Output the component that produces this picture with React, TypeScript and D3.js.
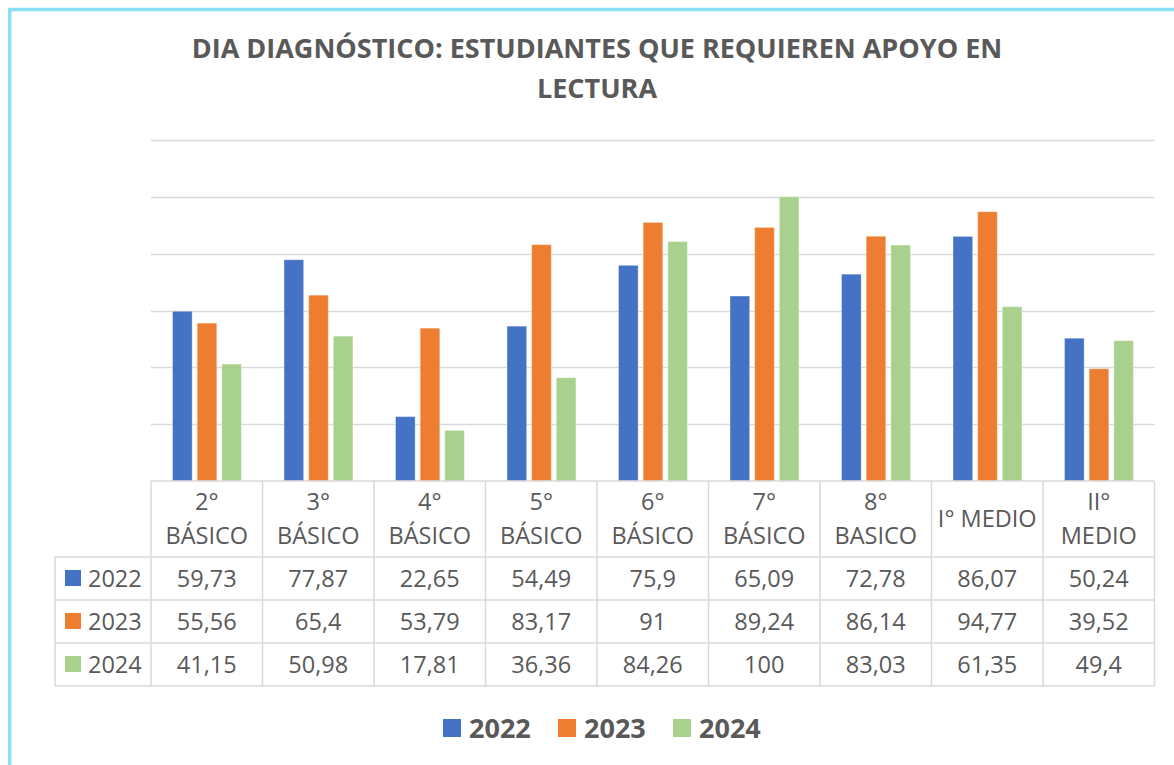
import React from "react";
import * as d3 from "d3";

const categories = [
  "2°\nBÁSICO",
  "3°\nBÁSICO",
  "4°\nBÁSICO",
  "5°\nBÁSICO",
  "6°\nBÁSICO",
  "7°\nBÁSICO",
  "8°\nBASICO",
  "I° MEDIO",
  "II°\nMEDIO",
];
const seriesNames = ["2022", "2023", "2024"];
const values2022 = [59.73, 77.87, 22.65, 54.49, 75.9, 65.09, 72.78, 86.07, 50.24];
const values2023 = [55.56, 65.4, 53.79, 83.17, 91, 89.24, 86.14, 94.77, 39.52];
const values2024 = [41.15, 50.98, 17.81, 36.36, 84.26, 100, 83.03, 61.35, 49.4];
const yTicks = [0, 20, 40, 60, 80, 100, 120];
const colors = ["#4472C4", "#ED7D31", "#A9D18E"];

const titleLines = ["DIA DIAGNÓSTICO: ESTUDIANTES QUE REQUIEREN APOYO EN", "LECTURA"];

const W = 1174;
const H = 765;
const TXT = "#595959";
const GRID = "#D9D9D9";
const FONT = "'Open Sans', sans-serif";

const fmt = (v: number) => String(v).replace(".", ",");

export default function App() {
  const series = [values2022, values2023, values2024];
  const x = d3.scaleBand<number>().domain(d3.range(categories.length)).range([151, 1154.5]).paddingInner(0).paddingOuter(0);
  const y = d3.scaleLinear().domain([0, 120]).range([481, 140]);
  const bw = x.bandwidth();
  const barOff = bw * 0.193;
  const barStep = bw * 0.221;
  const barW = bw * 0.176;

  const headerTop = y(0);
  const headerBottom = 557;
  const rowH = 43;
  const legendLeft = 55;

  return (
    <svg width={W} height={H} style={{ position: "absolute", left: 0, top: 0, display: "block", background: "#fff" }} fontFamily={FONT}>
      <rect x={0} y={0} width={W} height={H} fill="#fff" />
      <rect x={9.75} y={9.5} width={W + 20} height={H + 20} fill="none" stroke="#8CDEF7" strokeWidth={3.5} />

      {/* title */}
      {titleLines.map((t, i) => (
        <text key={i} x={597} y={58 + i * 40} textAnchor="middle" fontSize={27} fontWeight={700} fill={TXT}>
          {t}
        </text>
      ))}

      {/* gridlines */}
      {yTicks.filter((t) => t > 0).map((t) => (
        <line key={t} x1={151} x2={1154.5} y1={Math.round(y(t)) + 0.5} y2={Math.round(y(t)) + 0.5} stroke={GRID} strokeWidth={1.5} />
      ))}

      {/* bars */}
      {series.map((vals, si) =>
        vals.map((v, ci) => (
          <rect
            key={`${si}-${ci}`}
            x={(x(ci) as number) + barOff + si * barStep}
            y={y(v)}
            width={barW}
            height={y(0) - y(v)}
            fill={colors[si]}
            stroke="#ffffff"
            strokeOpacity={0.35}
            strokeWidth={1}
          />
        ))
      )}

      {/* table lines */}
      <g stroke={GRID} strokeWidth={1.5} fill="none">
        <line x1={151} x2={1154.5} y1={headerTop} y2={headerTop} />
        {d3.range(categories.length + 1).map((i) => {
          const xx = i < categories.length ? (x(i) as number) : 1154.5;
          return <line key={i} x1={xx} x2={xx} y1={headerTop} y2={headerBottom + 3 * rowH} />;
        })}
        {d3.range(4).map((r) => (
          <line key={r} x1={legendLeft} x2={1154.5} y1={headerBottom + r * rowH} y2={headerBottom + r * rowH} />
        ))}
        <line x1={legendLeft} x2={legendLeft} y1={headerBottom} y2={headerBottom + 3 * rowH} />
      </g>

      {/* header labels */}
      {categories.map((c, ci) => {
        const lines = c.split("\n");
        const cx = (x(ci) as number) + bw / 2;
        const mid = (headerTop + headerBottom) / 2;
        return lines.map((ln, li) => (
          <text
            key={`${ci}-${li}`}
            x={cx}
            y={mid + (li - (lines.length - 1) / 2) * 34}
            dy="0.35em"
            textAnchor="middle"
            fontSize={23.5}
            fill={TXT}
          >
            {ln}
          </text>
        ));
      })}

      {/* rows */}
      {series.map((vals, si) => {
        const cy = headerBottom + si * rowH + rowH / 2;
        return (
          <g key={si}>
            <rect x={65} y={cy - 8.5} width={16} height={16} fill={colors[si]} />
            <text x={88} y={cy} dy="0.35em" fontSize={23.5} fill={TXT}>
              {seriesNames[si]}
            </text>
            {vals.map((v, ci) => (
              <text key={ci} x={(x(ci) as number) + bw / 2} y={cy} dy="0.35em" textAnchor="middle" fontSize={23.5} fill={TXT}>
                {fmt(v)}
              </text>
            ))}
          </g>
        );
      })}

      {/* legend */}
      {seriesNames.map((s, si) => (
        <g key={s} transform={`translate(${443 + si * 115}, 0)`}>
          <rect x={0} y={719} width={18} height={18} fill={colors[si]} />
          <text x={26} y={728} dy="0.36em" fontSize={27} fontWeight={700} fill={TXT}>
            {s}
          </text>
        </g>
      ))}
    </svg>
  );
}
